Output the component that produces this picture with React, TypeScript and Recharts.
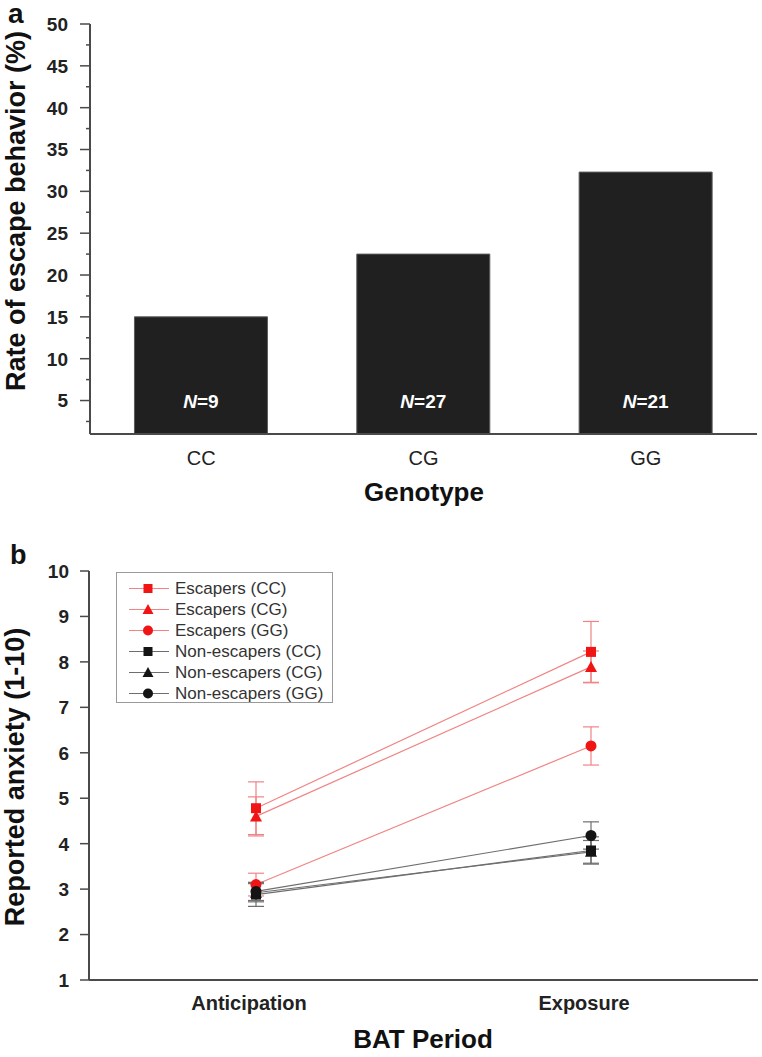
import React from 'react';
import { BarChart, Bar, XAxis, YAxis, LabelList, LineChart, Line, ErrorBar, Legend } from 'recharts';

// ---------- Panel a data ----------
const genotypes = ['CC', 'CG', 'GG'];
const escapeRate = [15.0, 22.5, 32.3];
const sampleN = [9, 27, 21];
const rateTicks = [2.5, 5, 7.5, 10, 12.5, 15, 17.5, 20, 22.5, 25, 27.5, 30, 32.5, 35, 37.5, 40, 42.5, 45, 47.5, 50];

// ---------- Panel b data ----------
const periods = ['Anticipation', 'Exposure'];
const anxietyTicks = [1, 2, 3, 4, 5, 6, 7, 8, 9, 10];
const seriesKeys = ['escCC', 'escCG', 'escGG', 'nonCC', 'nonCG', 'nonGG'];
const seriesLabels = ['Escapers (CC)', 'Escapers (CG)', 'Escapers (GG)', 'Non-escapers (CC)', 'Non-escapers (CG)', 'Non-escapers (GG)'];
const escCC = [4.78, 8.22];
const escCG = [4.6, 7.89];
const escGG = [3.1, 6.15];
const nonCC = [2.88, 3.85];
const nonCG = [2.92, 3.82];
const nonGG = [2.95, 4.18];
const escCCErr = [0.58, 0.67];
const escCGErr = [0.43, 0.35];
const escGGErr = [0.25, 0.42];
const nonCCErr = [0.26, 0.3];
const nonCGErr = [0.2, 0.25];
const nonGGErr = [0.2, 0.3];
const seriesValues = [escCC, escCG, escGG, nonCC, nonCG, nonGG];
const seriesErrors = [escCCErr, escCGErr, escGGErr, nonCCErr, nonCGErr, nonGGErr];

const RED = '#f01414';
const RED_LINE = '#f08484';
const BLACK = '#141414';
const GRAY_LINE = '#6e6e6e';
const seriesStyle = [
  { color: RED, line: RED_LINE, shape: 'square' },
  { color: RED, line: RED_LINE, shape: 'triangle' },
  { color: RED, line: RED_LINE, shape: 'circle' },
  { color: BLACK, line: GRAY_LINE, shape: 'square' },
  { color: BLACK, line: GRAY_LINE, shape: 'triangle' },
  { color: BLACK, line: GRAY_LINE, shape: 'circle' },
];

const barData = genotypes.map((g, i) => ({ genotype: g, rate: escapeRate[i], n: sampleN[i] }));
const lineData = periods.map((p, i) => {
  const row: any = { period: p };
  seriesKeys.forEach((k, s) => {
    row[k] = seriesValues[s][i];
    row[k + 'Err'] = seriesErrors[s][i];
  });
  return row;
});

const FONT = '"Liberation Sans", Arial, Helvetica, sans-serif';
const AXIS = '#4a4a4a';

const Marker = ({ cx, cy, shape, color, size = 10 }: any) => {
  const h = size / 2;
  if (shape === 'square') return <rect x={cx - h} y={cy - h} width={size} height={size} fill={color} />;
  if (shape === 'triangle')
    return <polygon points={`${cx},${cy - h - 1} ${cx + h + 1},${cy + h} ${cx - h - 1},${cy + h}`} fill={color} />;
  return <circle cx={cx} cy={cy} r={h + 0.5} fill={color} />;
};

const RateTick = (props: any) => {
  const { x, y, payload } = props;
  const major = payload.value % 5 === 0;
  return (
    <g>
      <line x1={x} x2={x - (major ? 10 : 4)} y1={y} y2={y} stroke={AXIS} strokeWidth={1.5} />
      {major && (
        <text x={x - 22} y={y} dy="0.36em" textAnchor="end" fontFamily={FONT} fontWeight="bold" fontSize={19} fill="#222">
          {payload.value}
        </text>
      )}
    </g>
  );
};

const GenoTick = (props: any) => {
  const { x, y, payload } = props;
  return (
    <text x={x} y={y + 24} dy="0.36em" textAnchor="middle" fontFamily={FONT} fontSize={20} fill="#222">
      {payload.value}
    </text>
  );
};

const AnxTick = (props: any) => {
  const { x, y, payload } = props;
  return (
    <g>
      <line x1={x} x2={x - 9} y1={y} y2={y} stroke={AXIS} strokeWidth={1.5} />
      <text x={x - 20} y={y} dy="0.36em" textAnchor="end" fontFamily={FONT} fontWeight="bold" fontSize={19} fill="#222">
        {payload.value}
      </text>
    </g>
  );
};

const PeriodTick = (props: any) => {
  const { x, y, payload } = props;
  return (
    <text x={x - 7} y={y + 23} dy="0.36em" textAnchor="middle" fontFamily={FONT} fontWeight="bold" fontSize={20} fill="#222">
      {payload.value}
    </text>
  );
};

const NLabel = (props: any) => {
  const { x, y, width, height, value } = props;
  return (
    <text x={x + width / 2} y={y + height - 33} dy="0.36em" textAnchor="middle" fontFamily={FONT} fontWeight="bold" fontSize={19} fill="#fff">
      <tspan fontStyle="italic">N</tspan>
      <tspan>={value}</tspan>
    </text>
  );
};

const LegendBox = () => (
  <div
    style={{
      width: 217,
      height: 131,
      boxSizing: 'border-box',
      border: '1.5px solid #9a9a9a',
      background: '#fff',
      paddingTop: 5,
      fontFamily: FONT,
      fontSize: 17,
      color: '#333',
    }}
  >
    {seriesKeys.map((k, i) => (
      <div key={k} style={{ height: 21, display: 'flex', alignItems: 'center' }}>
        <svg width={58} height={21} style={{ flex: 'none' }}>
          <line x1={12} x2={52} y1={10.5} y2={10.5} stroke={seriesStyle[i].line} strokeWidth={1.2} />
          <Marker cx={31} cy={10.5} shape={seriesStyle[i].shape} color={seriesStyle[i].color} size={9} />
        </svg>
        <span style={{ whiteSpace: 'nowrap', lineHeight: '21px' }}>{seriesLabels[i]}</span>
      </div>
    ))}
  </div>
);

export default function App() {
  return (
    <div style={{ position: 'absolute', left: 0, top: 0, width: 762, height: 1057, background: '#fff', fontFamily: FONT }}>
      <div style={{ position: 'absolute', left: 8, top: 0, fontSize: 28, lineHeight: '28px', fontWeight: 'bold', color: '#111' }}>a</div>
      <div style={{ position: 'absolute', left: 10, top: 542, fontSize: 27, lineHeight: '27px', fontWeight: 'bold', color: '#111' }}>b</div>

      <div style={{ position: 'absolute', left: 0, top: 0 }}>
        <BarChart width={762} height={530} data={barData} margin={{ top: 24, right: 5, left: 0, bottom: 0 }} barCategoryGap="20%">
          <XAxis
            dataKey="genotype"
            height={96}
            tickLine={false}
            tickSize={0}
            tickMargin={0}
            tick={<GenoTick />}
            axisLine={{ stroke: AXIS, strokeWidth: 2 }}
            label={{
              content: () => (
                <text x={424} y={501} textAnchor="middle" fontFamily={FONT} fontWeight="bold" fontSize={26} fill="#111">
                  Genotype
                </text>
              ),
            }}
          />
          <YAxis
            type="number"
            domain={[1, 50]}
            ticks={rateTicks}
            interval={0}
            width={90}
            tickLine={false}
            tickSize={0}
            tickMargin={0}
            tick={<RateTick />}
            axisLine={{ stroke: AXIS, strokeWidth: 2 }}
            allowDataOverflow
            label={{
              content: () => (
                <text
                  x={25}
                  y={211}
                  transform="rotate(-90 25 211)"
                  textAnchor="middle"
                  fontFamily={FONT}
                  fontWeight="bold"
                  fontSize={27}
                  fill="#111"
                >
                  Rate of escape behavior (%)
                </text>
              ),
            }}
          />
          <Bar dataKey="rate" fill="#202020" stroke="#5a5a5a" strokeWidth={1} isAnimationActive={false}>
            <LabelList dataKey="n" content={<NLabel />} />
          </Bar>
        </BarChart>
      </div>

      <div style={{ position: 'absolute', left: 0, top: 530 }}>
        <LineChart width={762} height={527} data={lineData} margin={{ top: 41, right: 4, left: 0, bottom: 0 }}>
          <XAxis
            dataKey="period"
            type="category"
            padding={{ left: 167, right: 167 }}
            height={77}
            tickLine={false}
            tickSize={0}
            tickMargin={0}
            tick={<PeriodTick />}
            axisLine={{ stroke: AXIS, strokeWidth: 2 }}
            label={{
              content: () => (
                <text x={423} y={518} textAnchor="middle" fontFamily={FONT} fontWeight="bold" fontSize={26} fill="#111">
                  BAT Period
                </text>
              ),
            }}
          />
          <YAxis
            type="number"
            domain={[1, 10]}
            ticks={anxietyTicks}
            interval={0}
            width={89}
            tickLine={false}
            tickSize={0}
            tickMargin={0}
            tick={<AnxTick />}
            axisLine={{ stroke: AXIS, strokeWidth: 2 }}
            label={{
              content: () => (
                <text
                  x={24}
                  y={247}
                  transform="rotate(-90 24 247)"
                  textAnchor="middle"
                  fontFamily={FONT}
                  fontWeight="bold"
                  fontSize={27}
                  fill="#111"
                >
                  Reported anxiety (1-10)
                </text>
              ),
            }}
          />
          <Legend
            layout="vertical"
            align="center"
            verticalAlign="middle"
            content={<LegendBox />}
            wrapperStyle={{ left: 116, top: 42, width: 217, height: 131 }}
          />
          {seriesKeys.map((k, i) => (
            <Line
              key={k}
              dataKey={k}
              name={seriesLabels[i]}
              stroke={seriesStyle[i].line}
              strokeWidth={1.2}
              isAnimationActive={false}
              dot={(p: any) => (
                <Marker key={`${k}-${p.index}`} cx={p.cx} cy={p.cy} shape={seriesStyle[i].shape} color={seriesStyle[i].color} size={10} />
              )}
              activeDot={false}
            >
              <ErrorBar dataKey={k + 'Err'} width={8} stroke={seriesStyle[i].line} strokeWidth={1.2} direction="y" />
            </Line>
          ))}
        </LineChart>
      </div>
    </div>
  );
}
